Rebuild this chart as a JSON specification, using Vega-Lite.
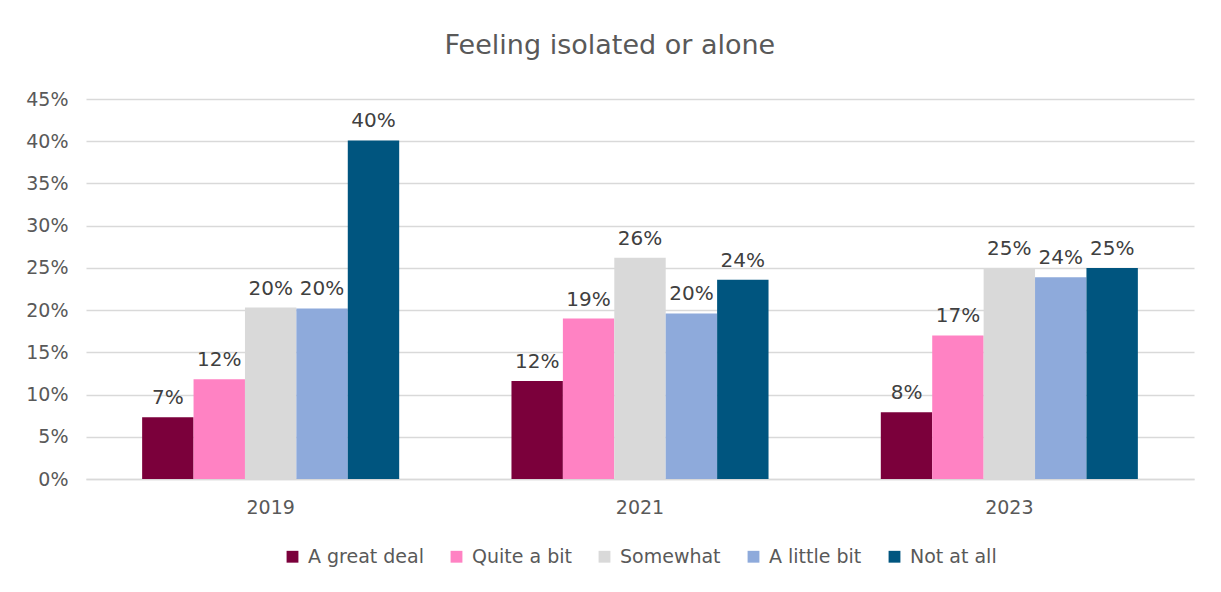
{
  "$schema": "https://vega.github.io/schema/vega-lite/v6.json",
  "width": 1108,
  "height": 380,
  "padding": {"top": 32, "left": 25, "right": 27, "bottom": 10},
  "background": "white",
  "title": {
    "text": "Feeling isolated or alone",
    "fontSize": 27,
    "font": "DejaVu Sans",
    "fontWeight": "normal",
    "color": "#595959",
    "anchor": "middle",
    "frame": "bounds",
    "offset": 30
  },
  "data": {
    "values": [
      {"year": "2019", "response": "A great deal", "share": 0.073},
      {"year": "2019", "response": "Quite a bit", "share": 0.118},
      {"year": "2019", "response": "Somewhat", "share": 0.203},
      {"year": "2019", "response": "A little bit", "share": 0.202},
      {"year": "2019", "response": "Not at all", "share": 0.401},
      {"year": "2021", "response": "A great deal", "share": 0.116},
      {"year": "2021", "response": "Quite a bit", "share": 0.19},
      {"year": "2021", "response": "Somewhat", "share": 0.262},
      {"year": "2021", "response": "A little bit", "share": 0.196},
      {"year": "2021", "response": "Not at all", "share": 0.236},
      {"year": "2023", "response": "A great deal", "share": 0.079},
      {"year": "2023", "response": "Quite a bit", "share": 0.17},
      {"year": "2023", "response": "Somewhat", "share": 0.25},
      {"year": "2023", "response": "A little bit", "share": 0.239},
      {"year": "2023", "response": "Not at all", "share": 0.25}
    ]
  },
  "encoding": {
    "x": {
      "field": "year",
      "type": "nominal",
      "title": null,
      "scale": {"paddingInner": 0.304, "paddingOuter": 0.152},
      "axis": {
        "labelAngle": 0,
        "ticks": false,
        "domain": true,
        "domainColor": "#d9d9d9",
        "domainWidth": 1.5,
        "labelFontSize": 19,
        "labelFont": "DejaVu Sans",
        "labelColor": "#595959",
        "labelPadding": 19
      }
    },
    "xOffset": {
      "field": "response",
      "type": "nominal",
      "sort": ["A great deal", "Quite a bit", "Somewhat", "A little bit", "Not at all"],
      "scale": {"paddingInner": 0, "paddingOuter": 0}
    },
    "y": {
      "field": "share",
      "type": "quantitative",
      "title": null,
      "scale": {"domain": [0, 0.45], "nice": false},
      "axis": {
        "format": ".0%",
        "values": [0, 0.05, 0.1, 0.15, 0.2, 0.25, 0.3, 0.35, 0.4, 0.45],
        "ticks": false,
        "domain": false,
        "gridColor": "#d9d9d9",
        "gridWidth": 1.5,
        "labelFontSize": 19,
        "labelFont": "DejaVu Sans",
        "labelColor": "#595959",
        "labelPadding": 18,
        "minExtent": 60,
        "maxExtent": 60
      }
    }
  },
  "layer": [
    {
      "mark": {"type": "bar"},
      "encoding": {
        "color": {
          "field": "response",
          "type": "nominal",
          "sort": ["A great deal", "Quite a bit", "Somewhat", "A little bit", "Not at all"],
          "scale": {
            "domain": ["A great deal", "Quite a bit", "Somewhat", "A little bit", "Not at all"],
            "range": ["#7b003b", "#ff82c3", "#d9d9d9", "#8eaadb", "#00557f"]
          },
          "legend": {
            "title": null,
            "orient": "bottom",
            "direction": "horizontal",
            "symbolType": "square",
            "symbolSize": 140,
            "symbolStrokeWidth": 0,
            "labelFontSize": 19,
            "labelFont": "DejaVu Sans",
            "labelColor": "#595959",
            "labelOffset": 6,
            "columnPadding": 23,
            "offset": 30
          }
        }
      }
    },
    {
      "mark": {"type": "text", "baseline": "bottom", "dy": -9, "fontSize": 20, "font": "DejaVu Sans", "color": "#404040"},
      "encoding": {
        "text": {"field": "share", "type": "quantitative", "format": ".0%"}
      }
    }
  ],
  "config": {
    "view": {"stroke": null},
    "legend": {"layout": {"bottom": {"anchor": "middle"}}}
  }
}
